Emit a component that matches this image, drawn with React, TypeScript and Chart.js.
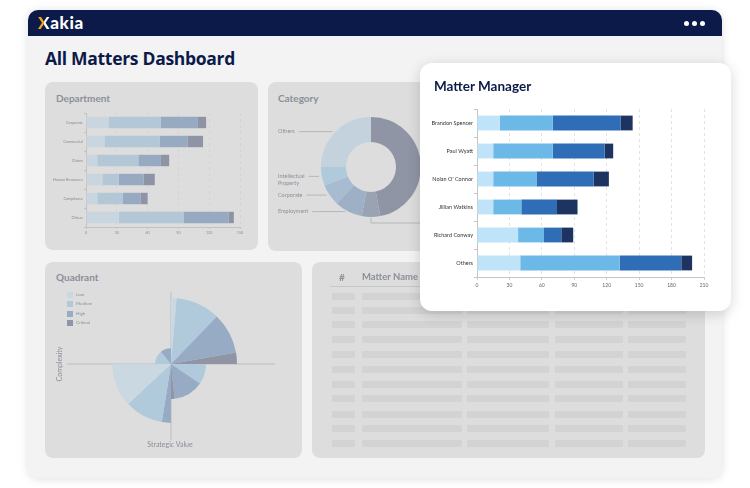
import React, { useEffect, useRef } from 'react';
import { Chart, registerables } from 'chart.js';

Chart.register(...registerables);

const FONT = 'Lato, "Noto Sans", sans-serif';
const NAVY = '#0b1a48';

// ---- Matter Manager (main chart) ----
const mmLabels = ['Brandon Spencer', 'Paul Wyatt', "Nolan O' Connor", 'Jillian Watkins', 'Richard Conway', 'Others'];
const seriesNames = ['Low', 'Medium', 'High', 'Critical'];
const mmLow = [21, 15, 15, 15, 38, 40];
const mmMedium = [49, 55, 40, 26, 24, 92];
const mmHigh = [63, 48, 53, 33, 16, 57];
const mmCritical = [11, 8, 14, 19, 11, 10];
const mmTicks = [0, 30, 60, 90, 120, 150, 180, 210];
const MM_COLORS = ['#bfe3f8', '#6cb9e8', '#2f6db7', '#1d3461'];

// ---- Department ----
const deptLabels = ['Corporate', 'Commercial', 'Claims', 'Human Resources', 'Compliance', 'Others'];
const deptLow = [22, 18, 11, 16, 11, 32];
const deptMedium = [51, 54, 40, 16, 25, 63];
const deptHigh = [36, 27, 22, 24, 17, 44];
const deptCritical = [8, 15, 8, 11, 7, 5];
const deptTicks = [0, 30, 60, 90, 120, 150];
const FADED = ['#c9d6df', '#b3c7d6', '#98aac2', '#8e94a4'];

// ---- Category ----
const catLabels = ['Litigation', 'Regulatory', 'Employment', 'Corporate', 'Intellectual Property', 'Others'];
const catValues = [47, 6, 9, 7, 6, 25];
const CAT_COLORS = ['#8f95a5', '#9aa3b3', '#9db0c5', '#a7bcd1', '#afcadc', '#c3d2dd'];
const catShown = [false, false, true, true, true, true];

// ---- Quadrant ----
const quadLevel = ['Low', 'Medium', 'High', 'Critical', 'Medium', 'High', 'Critical', 'High', 'Medium', 'Low', 'Medium', 'High'];
const quadValues = [100, 100, 100, 100, 53, 53, 53, 89, 89, 89, 24, 24];
const quadAngles = [5, 39, 36, 10, 34, 50, 6, 9, 38, 43, 50, 40];
const QUAD_COLORS: Record<string, string> = { Low: '#cad8e2', Medium: '#b0c9db', High: '#97abc5', Critical: '#8f95a5' };

function stackedBar(labels: string[], series: number[][], colors: string[], opt: any) {
  return {
    type: 'bar',
    data: {
      labels,
      datasets: series.map((d, i) => ({ label: seriesNames[i], data: d, backgroundColor: colors[i], borderWidth: 0 })),
    },
    options: {
      indexAxis: 'y',
      responsive: false,
      animation: false,
      layout: { padding: opt.padding },
      plugins: { legend: { display: false }, tooltip: { enabled: false } },
      datasets: { bar: { barPercentage: opt.barPct, categoryPercentage: 0.8 } },
      scales: {
        x: {
          stacked: true,
          min: 0,
          max: opt.ticks[opt.ticks.length - 1],
          afterFit: (s: any) => { s.height = opt.xHeight; },
          afterBuildTicks: (s: any) => { s.ticks = opt.ticks.map((v: number) => ({ value: v })); },
          ticks: { color: opt.tickColor, font: { family: FONT, size: opt.xFont }, padding: opt.xPad, maxRotation: 0, autoSkip: false },
          grid: { color: opt.gridColor, lineWidth: 0.8, tickLength: opt.tickLen, tickColor: opt.axisColor },
          border: { color: opt.axisColor, dash: [3, 3], width: 1 },
        },
        y: {
          stacked: true,
          afterFit: (s: any) => { s.width = opt.yWidth; },
          ticks: { color: opt.labelColor, font: { family: FONT, size: opt.yFont }, padding: 1 },
          grid: { drawOnChartArea: false, tickLength: opt.tickLen, color: opt.axisColor },
          border: { color: opt.axisColor, width: 1 },
        },
      },
    },
  };
}

const donutLabelPlugin = {
  id: 'donutLabels',
  afterDatasetsDraw(chart: any) {
    const ctx = chart.ctx;
    const meta = chart.getDatasetMeta(0);
    ctx.save();
    ctx.font = `5.5px ${FONT}`;
    ctx.fillStyle = '#8b8f98';
    ctx.strokeStyle = '#a3a6ac';
    ctx.lineWidth = 0.7;
    ctx.textBaseline = 'middle';
    meta.data.forEach((arc: any, i: number) => {
      const { x, y, startAngle, endAngle, outerRadius } = arc.getProps(['x', 'y', 'startAngle', 'endAngle', 'outerRadius'], true);
      const mid = (startAngle + endAngle) / 2;
      const px = x + Math.cos(mid) * outerRadius;
      const py = y + Math.sin(mid) * outerRadius;
      if (catShown[i]) {
        const words = String(chart.data.labels[i]).split(' ');
        const lines = words.length > 1 && words[0].length > 8 ? words : [words.join(' ')];
        lines.forEach((l: string, k: number) => ctx.fillText(l, 10, py + k * 6.5));
        const w = ctx.measureText(lines[0]).width;
        ctx.beginPath();
        ctx.moveTo(10 + w + 4, py);
        ctx.lineTo(px - 3, py);
        ctx.stroke();
      } else if (Math.abs(mid - Math.PI / 2) < 0.5) {
        ctx.beginPath();
        ctx.moveTo(px, py + 1);
        ctx.lineTo(px, py + 6);
        ctx.lineTo(px + 60, py + 6);
        ctx.stroke();
      }
    });
    ctx.restore();
  },
};

const crossPlugin = {
  id: 'cross',
  beforeDatasetsDraw(chart: any) {
    const s = chart.scales.r;
    const ctx = chart.ctx;
    ctx.save();
    ctx.strokeStyle = '#bdbdbd';
    ctx.lineWidth = 1;
    ctx.beginPath();
    ctx.moveTo(s.xCenter - 104, s.yCenter);
    ctx.lineTo(s.xCenter + 104, s.yCenter);
    ctx.moveTo(s.xCenter, s.yCenter - 72);
    ctx.lineTo(s.xCenter, s.yCenter + 76);
    ctx.stroke();
    ctx.restore();
  },
};

function ChartBox({ config, left, top, width, height, plugins }: any) {
  const ref = useRef<HTMLCanvasElement>(null);
  useEffect(() => {
    const c = new Chart(ref.current as HTMLCanvasElement, { ...config, plugins: plugins || [] });
    return () => c.destroy();
  }, []);
  return (
    <canvas ref={ref} width={width} height={height}
      style={{ position: 'absolute', left, top, width, height }} />
  );
}

const mmConfig = stackedBar(mmLabels, [mmLow, mmMedium, mmHigh, mmCritical], MM_COLORS, {
  padding: { top: 9, right: 11, bottom: 0, left: 0 },
  barPct: 0.66, ticks: mmTicks, xHeight: 18, yWidth: 52, xFont: 5, yFont: 5.5, xPad: 2, tickLen: 3,
  tickColor: '#666', labelColor: '#333', gridColor: '#dcdcdc', axisColor: '#c4c4c4',
});

const deptConfig = stackedBar(deptLabels, [deptLow, deptMedium, deptHigh, deptCritical], FADED, {
  padding: { top: 31, right: 18, bottom: 0, left: 0 },
  barPct: 0.75, ticks: deptTicks, xHeight: 23, yWidth: 41, xFont: 3.8, yFont: 3.8, xPad: 1, tickLen: 2,
  tickColor: '#909090', labelColor: '#8a8a8a', gridColor: '#d2d2d2', axisColor: '#c2c2c2',
});

const catConfig = {
  type: 'doughnut',
  data: { labels: catLabels, datasets: [{ data: catValues, backgroundColor: CAT_COLORS, borderWidth: 0 }] },
  options: {
    responsive: false, animation: false, cutout: '50%',
    layout: { padding: { left: 53, right: 79, top: 35, bottom: 34 } },
    plugins: { legend: { display: false }, tooltip: { enabled: false } },
  },
};

const quadConfig = {
  type: 'polarArea',
  data: {
    labels: quadLevel,
    datasets: [{
      data: quadValues,
      backgroundColor: quadLevel.map((l) => QUAD_COLORS[l]),
      borderWidth: 0,
      angle: (ctx: any) => quadAngles[ctx.dataIndex],
    }],
  },
  options: {
    responsive: false, animation: false,
    layout: { padding: { left: 60, right: 66, top: 36, bottom: 28 } },
    plugins: { legend: { display: false }, tooltip: { enabled: false } },
    scales: { r: { display: false, min: 0, max: 100 } },
  },
};

const panel = (left: number, top: number, width: number, height: number): React.CSSProperties => ({
  position: 'absolute', left, top, width, height, background: '#dddddd', borderRadius: 8,
});

const panelTitle: React.CSSProperties = {
  position: 'absolute', fontSize: 10, lineHeight: '10px', fontWeight: 700, color: '#8b8f98', whiteSpace: 'nowrap',
};

const rowYs = [296, 310, 324, 339, 354, 369, 384, 398, 414, 428, 443];
const colXs = [[332, 355], [362, 462], [467, 549], [555, 623], [628, 686]];

export default function App() {
  return (
    <div style={{ position: 'absolute', left: 0, top: 0, width: 750, height: 488, overflow: 'hidden', background: '#ffffff', fontFamily: FONT }}>
      {/* frame */}
      <div style={{ position: 'absolute', left: 28, top: 10, width: 694, height: 468, background: '#f3f3f3', borderRadius: 10, boxShadow: '0 1px 10px rgba(0,0,0,0.13)', overflow: 'hidden' }}>
        <div style={{ position: 'absolute', left: 0, top: 0, width: 694, height: 26, background: NAVY }} />
      </div>
      {/* logo */}
      <div style={{ position: 'absolute', left: 38, top: 13, height: 20, lineHeight: '20px', fontSize: 17, fontWeight: 900, color: '#ffffff', letterSpacing: 0.7 }}>
        <span style={{ background: 'linear-gradient(90deg, #f5a524 50%, #ffffff 50%)', WebkitBackgroundClip: 'text', backgroundClip: 'text', color: 'transparent' }}>X</span>akia
      </div>
      {[686, 694, 702].map((x) => (
        <div key={x} style={{ position: 'absolute', left: x - 2.5, top: 21, width: 5, height: 5, borderRadius: 3, background: '#ffffff' }} />
      ))}
      {/* page title */}
      <div style={{ position: 'absolute', left: 45, top: 48, fontFamily: '"Open Sans", sans-serif', fontSize: 17.5, lineHeight: '20px', fontWeight: 700, color: NAVY, letterSpacing: -0.3, whiteSpace: 'nowrap' }}>
        All Matters Dashboard
      </div>

      {/* Department */}
      <div style={panel(45, 82, 213, 168)} />
      <div style={{ ...panelTitle, left: 56, top: 93 }}>Department</div>
      <ChartBox config={deptConfig} left={45} top={82} width={213} height={168} />

      {/* Category */}
      <div style={panel(268, 82, 232, 169)} />
      <div style={{ ...panelTitle, left: 278, top: 93 }}>Category</div>
      <ChartBox config={catConfig} left={268} top={82} width={232} height={169} plugins={[donutLabelPlugin]} />

      {/* Quadrant */}
      <div style={panel(45, 262, 257, 196)} />
      <div style={{ ...panelTitle, left: 56, top: 272 }}>Quadrant</div>
      <ChartBox config={quadConfig} left={45} top={262} width={258} height={196} plugins={[crossPlugin]} />
      {seriesNames.map((n, i) => (
        <React.Fragment key={n}>
          <div style={{ position: 'absolute', left: 67, top: 292 + i * 9.4, width: 6, height: 6, background: QUAD_COLORS[n] }} />
          <div style={{ position: 'absolute', left: 76, top: 292 + i * 9.4, fontSize: 4.5, lineHeight: '6px', color: '#8b8f98' }}>{n}</div>
        </React.Fragment>
      ))}
      <div style={{ position: 'absolute', left: 59, top: 364, transform: 'translate(-50%, -50%) rotate(-90deg)', fontSize: 7, color: '#8b8f98', whiteSpace: 'nowrap' }}>Complexity</div>
      <div style={{ position: 'absolute', left: 170, top: 444, transform: 'translate(-50%, -50%)', fontSize: 7, color: '#8b8f98', whiteSpace: 'nowrap' }}>Strategic Value</div>

      {/* Table */}
      <div style={panel(312, 262, 393, 196)} />
      <div style={{ ...panelTitle, left: 339, top: 272 }}>#</div>
      <div style={{ ...panelTitle, left: 362, top: 272, fontSize: 9.5 }}>Matter Name</div>
      <div style={{ position: 'absolute', left: 330, top: 286, width: 358, height: 1, background: '#c8c8c8' }} />
      {rowYs.map((y) => colXs.map(([a, b]) => (
        <div key={`${y}-${a}`} style={{ position: 'absolute', left: a, top: y - 3.5, width: b - a, height: 7, background: '#d3d3d3', borderRadius: 1 }} />
      )))}

      {/* Matter Manager card */}
      <div style={{ position: 'absolute', left: 420, top: 63, width: 311, height: 248, background: '#ffffff', borderRadius: 12, boxShadow: '0 3px 14px rgba(0,0,0,0.16)' }} />
      <div style={{ position: 'absolute', left: 434, top: 80, fontSize: 13.5, lineHeight: '13.5px', fontWeight: 700, color: NAVY, whiteSpace: 'nowrap' }}>Matter Manager</div>
      <ChartBox config={mmConfig} left={425} top={100} width={290} height={195} />
    </div>
  );
}
